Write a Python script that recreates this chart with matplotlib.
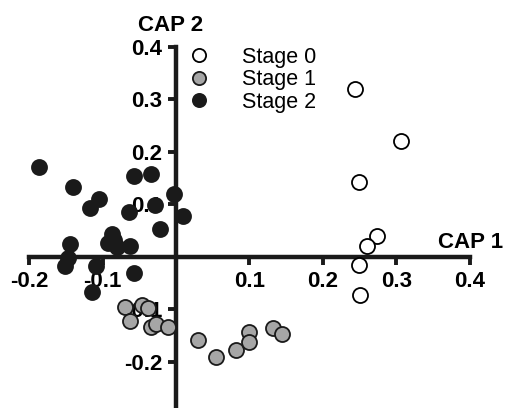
import matplotlib
matplotlib.use("Agg")
import matplotlib.pyplot as plt
from matplotlib.lines import Line2D

plt.rcParams['font.family'] = ['Liberation Sans', 'DejaVu Sans']

# CAP scores per stage
stage0_x = [0.244, 0.307, 0.249, 0.274, 0.260, 0.249, 0.250]
stage0_y = [0.320, 0.220, 0.142, 0.040, 0.020, -0.015, -0.072]

stage1_x = [-0.069, -0.047, -0.038, -0.063, -0.034, -0.027, -0.011,
            0.030, 0.055, 0.082, 0.100, 0.100, 0.132, 0.144]
stage1_y = [-0.095, -0.091, -0.098, -0.123, -0.133, -0.128, -0.133,
            -0.159, -0.191, -0.178, -0.144, -0.163, -0.136, -0.147]

stage2_x = [-0.187, -0.140, -0.105, -0.117, -0.057, -0.034, -0.003, -0.029,
            -0.064, 0.010, -0.022, -0.088, -0.084, -0.093, -0.063, -0.080,
            -0.145, -0.147, -0.152, -0.109, -0.057, -0.114]
stage2_y = [0.171, 0.133, 0.110, 0.093, 0.155, 0.158, 0.120, 0.099,
            0.085, 0.077, 0.053, 0.044, 0.032, 0.026, 0.021, 0.019,
            0.025, -0.002, -0.017, -0.017, -0.031, -0.066]

ticks = [-0.2, -0.1, 0.1, 0.2, 0.3, 0.4]
tick_labels = ['-0.2', '-0.1', '0.1', '0.2', '0.3', '0.4']

fig = plt.figure(figsize=(5.07, 4.08), dpi=100)
ax = fig.add_axes([0, 0, 1, 1])
ax.set_xlim(-0.240, 0.451)
ax.set_ylim(-0.288, 0.4895)

ms = 117
ax.scatter(stage0_x, stage0_y, s=ms, facecolor='white', edgecolor='black', linewidth=1.3, zorder=3)
ax.scatter(stage1_x, stage1_y, s=ms, facecolor='#a6a6a6', edgecolor='#1a1a1a', linewidth=1.3, zorder=3)
ax.scatter(stage2_x, stage2_y, s=ms, facecolor='#1a1a1a', edgecolor='#1a1a1a', linewidth=1.3, zorder=3)

for side in ('top', 'right'):
    ax.spines[side].set_visible(False)
ax.spines['left'].set_position(('data', 0))
ax.spines['bottom'].set_position(('data', 0))
ax.spines['left'].set_bounds(-0.32, 0.4)
ax.spines['bottom'].set_bounds(-0.2, 0.4)
for side in ('left', 'bottom'):
    ax.spines[side].set_linewidth(3.2)
    ax.spines[side].set_color('#1a1a1a')

ax.set_xticks(ticks)
ax.set_xticklabels(tick_labels)
ax.set_yticks(ticks)
ax.set_yticklabels(tick_labels)
ax.tick_params(direction='out', length=6, width=2.8, color='#1a1a1a',
               labelsize=16, pad=4)
for lab in ax.get_xticklabels() + ax.get_yticklabels():
    lab.set_fontweight('bold')

ax.text(-0.008, 0.441, 'CAP 2', ha='center', va='center', fontsize=16,
        fontweight='bold')
ax.text(0.451 - 0.005, 0.008, 'CAP 1', ha='right', va='bottom', fontsize=16,
        fontweight='bold')

handles = [
    Line2D([], [], linestyle='none', marker='o', markersize=9.5, markerfacecolor='white',
           markeredgecolor='black', markeredgewidth=1.3),
    Line2D([], [], linestyle='none', marker='o', markersize=9.5, markerfacecolor='#a6a6a6',
           markeredgecolor='#1a1a1a', markeredgewidth=1.3),
    Line2D([], [], linestyle='none', marker='o', markersize=9.5, markerfacecolor='#1a1a1a',
           markeredgecolor='#1a1a1a', markeredgewidth=1.3),
]
ax.legend(handles, ['Stage 0', 'Stage 1', 'Stage 2'], loc='upper left',
          bbox_to_anchor=(177 / 507, 1 - 47 / 408), frameon=False, fontsize=15.5,
          borderpad=0, borderaxespad=0, handlelength=2.0, handletextpad=1.0,
          labelspacing=0.06)

fig.savefig('out.png', dpi=100)
